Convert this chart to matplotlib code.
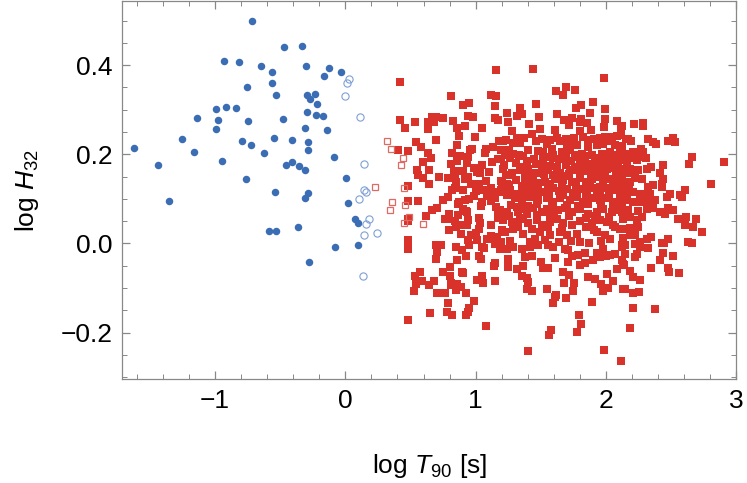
import numpy as np
import matplotlib
matplotlib.use("Agg")
import matplotlib.pyplot as plt
from matplotlib.ticker import MultipleLocator, FuncFormatter

plt.rcParams['font.family'] = ['Liberation Sans', 'DejaVu Sans']
plt.rcParams['mathtext.fontset'] = 'custom'
plt.rcParams['mathtext.rm'] = 'Liberation Sans'
plt.rcParams['mathtext.it'] = 'Liberation Sans:italic'

# short bursts, filled (log T90, log H32)
blue_fill = [
    (-0.716, 0.499), (-0.468, 0.440), (-0.332, 0.443), (-0.933, 0.410), (-0.815, 0.407),
    (-0.646, 0.399), (-0.299, 0.398), (-0.562, 0.384), (-0.125, 0.393), (-0.033, 0.384),
    (-0.161, 0.376), (-0.560, 0.359), (-0.751, 0.351), (-0.531, 0.333), (-0.291, 0.332),
    (-0.235, 0.336), (-0.268, 0.323), (-0.219, 0.312), (-0.994, 0.301), (-0.917, 0.306),
    (-0.838, 0.303), (-0.291, 0.295), (-0.225, 0.288), (-0.171, 0.286), (-1.140, 0.282),
    (-0.979, 0.277), (-0.744, 0.275), (-0.478, 0.280), (-0.994, 0.256), (-0.307, 0.259),
    (-0.138, 0.255), (-1.618, 0.214), (-1.250, 0.234), (-0.792, 0.231), (-0.544, 0.236),
    (-0.411, 0.233), (-1.163, 0.205), (-0.723, 0.220), (-0.623, 0.202), (-0.288, 0.227),
    (-0.288, 0.209), (-0.089, 0.195), (-1.439, 0.175), (-0.948, 0.184), (-0.452, 0.175),
    (-0.411, 0.182), (-0.357, 0.173), (-0.311, 0.164), (-0.761, 0.144), (0.005, 0.146),
    (-1.352, 0.096), (-0.539, 0.115), (-0.288, 0.113), (-0.307, 0.102), (0.023, 0.091),
    (0.077, 0.054), (0.095, 0.045), (-0.587, 0.029), (-0.531, 0.027), (-0.363, 0.038),
    (-0.079, -0.009), (0.097, -0.004), (-0.278, -0.042),
]

# short bursts, open
blue_open = [
    (0.031, 0.368), (0.011, 0.360), (-0.002, 0.330), (0.115, 0.283), (0.146, 0.179),
    (0.146, 0.119), (0.161, 0.115), (0.107, 0.099), (0.184, 0.055), (0.161, 0.044),
    (0.241, 0.023), (0.146, 0.019), (0.138, -0.073),
]

# long bursts, open
red_open = [
    (0.225, 0.126), (0.320, 0.231), (0.348, 0.212), (0.440, 0.192), (0.427, 0.176),
    (0.452, 0.124), (0.358, 0.092), (0.458, 0.087), (0.340, 0.075), (0.491, 0.060),
    (0.452, 0.045), (0.594, 0.043),
]

# long bursts, filled
red_fill_a = [
    (1.156, 0.390), (0.417, 0.363), (0.808, 0.331), (1.115, 0.333), (1.159, 0.331),
    (0.900, 0.311), (0.951, 0.315), (1.148, 0.309), (0.417, 0.278), (0.532, 0.273),
    (0.668, 0.284), (0.693, 0.284), (0.634, 0.273), (0.678, 0.273), (0.752, 0.281),
    (0.823, 0.275), (0.939, 0.286), (0.982, 0.283), (1.148, 0.281), (1.169, 0.276),
    (0.460, 0.260), (0.634, 0.257), (0.859, 0.259), (0.918, 0.264), (1.049, 0.259),
    (0.693, 0.233), (0.872, 0.240), (0.992, 0.239), (0.854, 0.222), (0.540, 0.227),
    (0.402, 0.210), (0.481, 0.207), (0.583, 0.216), (0.634, 0.203), (0.657, 0.192),
    (0.816, 0.203), (0.956, 0.210), (0.972, 0.213), (0.880, 0.196), (0.944, 0.195),
    (1.079, 0.213), (1.072, 0.203), (1.136, 0.216), (1.176, 0.229), (1.194, 0.210),
    (1.169, 0.190), (1.194, 0.190), (0.596, 0.182), (0.854, 0.185), (0.811, 0.178),
    (0.547, 0.164), (0.642, 0.165), (0.560, 0.154), (0.596, 0.147), (0.716, 0.149),
    (0.785, 0.147), (0.834, 0.160), (0.870, 0.162), (0.844, 0.147), (0.849, 0.138),
    (0.905, 0.163), (0.944, 0.150), (0.936, 0.144), (0.962, 0.134), (0.916, 0.144),
    (0.990, 0.169), (1.008, 0.160), (1.033, 0.158), (1.102, 0.161), (1.079, 0.140),
    (0.642, 0.133), (0.481, 0.129), (0.844, 0.125), (0.816, 0.119), (1.025, 0.133),
    (1.051, 0.121), (1.079, 0.121), (1.148, 0.116), (1.194, 0.121), (1.194, 0.140),
    (1.207, 0.115), (0.788, 0.104), (0.747, 0.098), (0.990, 0.107), (0.951, 0.100),
    (0.918, 0.098), (0.870, 0.093), (0.862, 0.089), (0.900, 0.077), (0.926, 0.072),
    (0.936, 0.070), (1.051, 0.093), (1.043, 0.085), (1.084, 0.107), (1.118, 0.095),
    (1.151, 0.102), (1.143, 0.116), (1.153, 0.082), (1.169, 0.073), (1.202, 0.062),
    (1.169, 0.058), (0.481, 0.095), (0.555, 0.095), (0.701, 0.080), (0.662, 0.075),
    (0.481, 0.056), (0.481, 0.050), (0.621, 0.061), (0.795, 0.067), (0.785, 0.054),
    (0.762, 0.054), (0.862, 0.063), (0.839, 0.050), (0.870, 0.042), (0.847, 0.036),
    (0.890, 0.042), (0.931, 0.041), (0.939, 0.052), (0.793, 0.030), (1.023, 0.057),
    (1.033, 0.045), (1.023, 0.033), (1.118, 0.042), (0.964, 0.018), (0.939, 0.007),
    (0.946, -0.004), (1.010, 0.007), (1.089, 0.009), (1.166, 0.015), (1.202, 0.030),
    (1.192, 0.003), (0.481, 0.007), (0.481, 0.001), (0.481, -0.012), (0.693, -0.003),
    (0.737, -0.004), (0.852, -0.007), (0.895, -0.014), (1.051, -0.009), (1.067, -0.010),
    (1.151, -0.002), (1.194, -0.012), (0.701, -0.019), (0.696, -0.034), (0.859, -0.036),
    (0.923, -0.027), (1.026, -0.029), (1.038, -0.034), (1.148, -0.043), (1.141, -0.051),
    (0.803, -0.052), (0.747, -0.063), (0.895, -0.063), (0.900, -0.067), (0.570, -0.063),
    (0.535, -0.072), (0.588, -0.084), (0.542, -0.090), (0.683, -0.085), (0.642, -0.094),
    (0.803, -0.074), (0.811, -0.089), (0.813, -0.094), (0.859, -0.092), (0.890, -0.098),
    (0.849, -0.105), (0.923, -0.111), (1.010, -0.081), (1.046, -0.073), (1.059, -0.089),
    (1.148, -0.084), (0.524, -0.107), (0.701, -0.111), (0.762, -0.111), (0.790, -0.133),
    (0.987, -0.130), (0.951, -0.145), (0.939, -0.154), (0.783, -0.154), (0.816, -0.161),
    (0.926, -0.160), (0.647, -0.155), (0.481, -0.172), (1.079, -0.184),
    (0.903, 0.121), (1.004, 0.118), (1.118, 0.124), (0.934, 0.181), (1.052, 0.176),
    (1.128, 0.183), (0.884, 0.021), (1.003, 0.024), (1.121, 0.017),
]

red_fill_b = [
    (1.442, 0.391), (1.981, 0.371), (1.616, 0.342), (1.695, 0.352), (1.667, 0.334),
    (1.764, 0.345), (1.902, 0.317), (1.460, 0.312), (1.342, 0.305), (1.355, 0.291),
    (1.314, 0.287), (1.242, 0.293), (1.247, 0.272), (1.485, 0.284), (1.621, 0.290),
    (1.767, 0.303), (1.807, 0.311), (1.877, 0.293), (1.810, 0.280), (1.800, 0.272),
    (1.680, 0.278), (1.736, 0.281), (1.715, 0.265), (1.856, 0.270), (1.989, 0.301),
    (1.994, 0.280), (1.981, 0.261), (2.086, 0.275), (2.112, 0.262), (1.411, 0.269),
    (1.278, 0.253), (1.490, 0.257), (1.611, 0.255), (1.432, 0.246), (1.212, 0.229),
    (1.283, 0.225), (1.319, 0.237), (1.373, 0.237), (1.511, 0.234), (1.570, 0.232),
    (1.646, 0.229), (1.692, 0.235), (1.751, 0.237), (1.800, 0.252), (1.825, 0.239),
    (1.882, 0.254), (1.910, 0.235), (1.953, 0.237), (1.992, 0.239), (2.043, 0.239),
    (2.086, 0.242), (1.199, 0.209), (1.252, 0.209), (1.288, 0.201), (1.332, 0.198),
    (1.224, 0.198), (1.403, 0.210), (1.478, 0.208), (1.518, 0.205), (1.588, 0.213),
    (1.593, 0.199), (1.664, 0.205), (1.697, 0.220), (1.726, 0.210), (1.774, 0.220),
    (1.859, 0.216), (1.928, 0.220), (1.979, 0.224), (2.068, 0.220), (2.107, 0.216),
    (2.030, 0.205), (1.966, 0.201), (1.889, 0.198), (1.813, 0.201), (1.761, 0.198),
    (1.690, 0.192), (1.306, 0.180), (1.391, 0.186), (1.444, 0.189), (1.513, 0.189),
    (1.595, 0.192), (1.506, 0.175), (1.621, 0.171), (1.728, 0.186), (1.800, 0.184),
    (1.851, 0.179), (1.915, 0.184), (1.979, 0.186), (2.043, 0.183), (2.094, 0.183),
    (1.206, 0.168), (1.232, 0.153), (1.276, 0.159), (1.339, 0.164), (1.403, 0.168),
    (1.442, 0.159), (1.442, 0.145), (1.493, 0.157), (1.557, 0.164), (1.595, 0.153),
    (1.646, 0.159), (1.685, 0.151), (1.723, 0.164), (1.774, 0.164), (1.820, 0.168),
    (1.864, 0.162), (1.907, 0.164), (1.953, 0.168), (2.004, 0.166), (2.056, 0.169),
    (2.112, 0.168), (1.199, 0.138), (1.237, 0.134), (1.306, 0.142), (1.378, 0.139),
    (1.416, 0.138), (1.480, 0.136), (1.531, 0.139), (1.570, 0.134), (1.621, 0.144),
    (1.672, 0.142), (1.736, 0.139), (1.800, 0.147), (1.846, 0.138), (1.889, 0.144),
    (1.941, 0.149), (1.979, 0.139), (2.030, 0.145), (2.081, 0.142), (2.120, 0.149),
    (1.212, 0.123), (1.263, 0.119), (1.327, 0.112), (1.391, 0.123), (1.429, 0.115),
    (1.480, 0.119), (1.518, 0.115), (1.595, 0.124), (1.641, 0.117), (1.697, 0.123),
    (1.744, 0.114), (1.795, 0.123), (1.856, 0.119), (1.907, 0.124), (1.953, 0.115),
    (2.004, 0.124), (2.056, 0.119), (2.107, 0.127), (1.301, 0.101), (1.352, 0.093),
    (1.416, 0.104), (1.480, 0.097), (1.544, 0.102), (1.595, 0.093), (1.646, 0.101),
    (1.723, 0.097), (1.774, 0.104), (1.825, 0.093), (1.889, 0.101), (1.953, 0.097),
    (2.017, 0.102), (2.068, 0.093), (2.120, 0.101), (1.186, 0.074), (1.237, 0.071),
    (1.314, 0.082), (1.327, 0.071), (1.365, 0.077), (1.391, 0.067), (1.442, 0.080),
    (1.506, 0.071), (1.544, 0.078), (1.570, 0.067), (1.634, 0.074), (1.685, 0.080),
    (1.736, 0.071), (1.800, 0.077), (1.864, 0.067), (1.928, 0.071), (1.979, 0.078),
    (2.043, 0.071), (2.107, 0.074), (1.212, 0.052), (1.276, 0.048), (1.339, 0.056),
    (1.403, 0.045), (1.467, 0.052), (1.506, 0.041), (1.570, 0.048), (1.621, 0.054),
    (1.672, 0.045), (1.736, 0.041), (1.800, 0.050), (1.889, 0.045), (1.953, 0.052),
    (2.004, 0.048), (2.056, 0.041), (2.107, 0.033), (1.224, 0.026), (1.288, 0.033),
    (1.365, 0.022), (1.455, 0.011), (1.493, 0.026), (1.570, 0.018), (1.646, 0.026),
    (1.697, 0.018), (1.774, 0.022), (1.800, 0.003), (1.928, 0.026), (1.992, 0.018),
    (2.030, 0.011), (1.186, -0.012), (1.237, -0.012), (1.288, -0.008), (1.352, -0.012),
    (1.416, -0.008), (1.480, -0.004), (1.557, -0.004), (1.595, -0.008), (1.685, -0.012),
    (1.710, -0.015), (1.787, -0.025), (1.838, -0.021), (1.928, -0.021), (1.979, -0.012),
    (2.030, -0.025), (2.120, -0.003), (1.250, -0.034), (1.378, -0.030), (1.429, -0.027),
    (1.608, -0.033), (1.736, -0.027), (1.710, -0.042), (1.800, -0.048), (1.838, -0.044),
    (1.897, -0.036), (1.953, -0.030), (1.999, -0.027), (2.068, -0.023), (1.250, -0.053),
    (1.314, -0.058), (1.360, -0.051), (1.498, -0.042), (1.518, -0.055), (1.557, -0.055),
    (1.672, -0.063), (1.718, -0.070), (1.864, -0.075), (1.915, -0.079), (2.004, -0.068),
    (2.081, -0.057), (2.127, -0.045), (1.352, -0.073), (1.391, -0.077), (1.403, -0.086),
    (1.429, -0.107), (1.396, -0.101), (1.677, -0.089), (1.754, -0.089), (1.744, -0.106),
    (1.961, -0.090), (2.017, -0.100), (2.050, -0.085), (1.979, -0.107), (2.132, -0.101),
    (1.544, -0.103), (1.616, -0.115), (1.608, -0.120), (1.692, -0.122), (1.590, -0.134),
    (1.889, -0.131), (1.790, -0.161), (1.805, -0.181), (1.779, -0.199), (1.577, -0.194),
    (1.564, -0.205), (1.401, -0.242), (1.981, -0.238), (2.114, -0.264),
]

# denser core of the long-burst cloud
red_fill_core = [
    (1.232, 0.233), (1.343, 0.226), (1.461, 0.231), (1.548, 0.224), (1.624, 0.236),
    (1.722, 0.228), (1.862, 0.232), (1.941, 0.226), (2.022, 0.230), (2.151, 0.234),
    (1.262, 0.191), (1.364, 0.197), (1.552, 0.194), (1.641, 0.189), (1.783, 0.193),
    (1.842, 0.196), (1.934, 0.192), (2.012, 0.194), (2.071, 0.199), (2.203, 0.192),
    (1.221, 0.176), (1.352, 0.172), (1.463, 0.178), (1.572, 0.174), (1.693, 0.177),
    (1.762, 0.172), (1.892, 0.176), (1.963, 0.173), (2.031, 0.178), (2.162, 0.174),
    (1.271, 0.154), (1.382, 0.151), (1.523, 0.156), (1.612, 0.152), (1.714, 0.155),
    (1.803, 0.158), (1.884, 0.152), (1.992, 0.155), (2.073, 0.152), (2.182, 0.157),
    (1.253, 0.131), (1.352, 0.128), (1.451, 0.133), (1.553, 0.126), (1.662, 0.131),
    (1.771, 0.128), (1.873, 0.132), (1.952, 0.127), (2.051, 0.133), (2.173, 0.129),
    (1.242, 0.108), (1.373, 0.111), (1.462, 0.106), (1.564, 0.112), (1.672, 0.108),
    (1.763, 0.111), (1.843, 0.106), (1.934, 0.109), (2.023, 0.112), (2.142, 0.106),
    (1.272, 0.086), (1.403, 0.083), (1.472, 0.088), (1.583, 0.084), (1.702, 0.087),
    (1.782, 0.083), (1.861, 0.088), (1.963, 0.085), (2.054, 0.086),
    (1.253, 0.061), (1.362, 0.058), (1.474, 0.063), (1.603, 0.059), (1.712, 0.062),
    (1.843, 0.058), (1.912, 0.061), (2.024, 0.059),
    (1.323, 0.036), (1.432, 0.033), (1.553, 0.037), (1.662, 0.034), (1.843, 0.036),
    (1.904, 0.031), (2.072, 0.037),
    (1.262, 0.006), (1.413, 0.003), (1.532, 0.007), (1.641, 0.004), (1.733, 0.006),
    (1.872, 0.002), (1.962, 0.005),
]

red_fill_c = [
    (2.214, 0.268), (2.283, 0.271), (2.283, 0.264), (2.120, 0.263), (2.171, 0.235),
    (2.191, 0.230), (2.120, 0.219), (2.112, 0.243), (2.324, 0.234), (2.363, 0.228),
    (2.381, 0.224), (2.478, 0.229), (2.516, 0.237), (2.529, 0.228), (2.266, 0.213),
    (2.286, 0.206), (2.209, 0.206), (2.171, 0.200), (2.127, 0.198), (2.145, 0.187),
    (2.657, 0.194), (2.636, 0.179), (2.908, 0.183), (2.266, 0.194), (2.304, 0.191),
    (2.235, 0.187), (2.347, 0.172), (2.312, 0.168), (2.248, 0.164), (2.184, 0.168),
    (2.133, 0.164), (2.437, 0.177), (2.414, 0.159), (2.439, 0.144), (2.427, 0.127),
    (2.427, 0.134), (2.803, 0.133), (2.363, 0.132), (2.324, 0.127), (2.273, 0.144),
    (2.222, 0.146), (2.184, 0.138), (2.133, 0.137), (2.120, 0.127), (2.606, 0.121),
    (2.491, 0.112), (2.465, 0.105), (2.567, 0.108), (2.585, 0.105), (2.337, 0.112),
    (2.299, 0.108), (2.260, 0.112), (2.209, 0.116), (2.145, 0.116), (2.107, 0.108),
    (2.376, 0.097), (2.324, 0.093), (2.260, 0.093), (2.209, 0.093), (2.158, 0.097),
    (2.120, 0.093), (2.478, 0.080), (2.516, 0.075), (2.414, 0.071), (2.452, 0.067),
    (2.363, 0.080), (2.312, 0.077), (2.248, 0.072), (2.171, 0.075), (2.120, 0.071),
    (2.549, 0.056), (2.611, 0.060), (2.688, 0.054), (2.273, 0.060), (2.235, 0.052),
    (2.184, 0.060), (2.133, 0.056), (2.606, 0.041), (2.665, 0.036), (2.739, 0.026),
    (2.248, 0.037), (2.184, 0.035), (2.120, 0.033), (2.222, 0.018), (2.184, 0.018),
    (2.133, 0.012), (2.342, 0.015), (2.317, 0.010), (2.473, 0.010), (2.427, 0.002),
    (2.447, 0.001), (2.631, 0.004), (2.662, 0.002), (2.260, 0.004), (2.222, -0.002),
    (2.260, -0.008), (2.324, -0.011), (2.145, -0.004), (2.120, -0.008), (2.439, -0.021),
    (2.414, -0.037), (2.516, -0.029), (2.235, -0.023), (2.222, -0.030), (2.145, -0.023),
    (2.120, -0.037), (2.138, -0.049), (2.345, -0.056), (2.478, -0.055), (2.483, -0.065),
    (2.560, -0.067), (2.184, -0.062), (2.209, -0.075), (2.260, -0.081), (2.145, -0.101),
    (2.209, -0.112), (2.255, -0.109), (2.204, -0.145), (2.376, -0.146), (2.184, -0.189),
]

blue = '#3b6db5'
red = '#d8322a'

fig = plt.figure(figsize=(7.47, 4.83), dpi=100)
ax = fig.add_axes([0.1637, 0.2153, 0.8222, 0.7827])

bf = np.array(blue_fill)
bo = np.array(blue_open)
ro = np.array(red_open)
rf = np.array(red_fill_a + red_fill_b + red_fill_core + red_fill_c)

ax.plot(bf[:, 0], bf[:, 1], 'o', color=blue, ms=5.4, mew=0)
ax.plot(bo[:, 0], bo[:, 1], 'o', mfc='none', mec='#7f9fd4', ms=5.2, mew=0.8)
ax.plot(rf[:, 0], rf[:, 1], 's', color=red, ms=5.6, mew=0)
ax.plot(ro[:, 0], ro[:, 1], 's', mfc='none', mec='#e06a62', ms=5.0, mew=0.9)

ax.set_xlim(-1.71, 3.0)
ax.set_ylim(-0.304, 0.544)
ax.xaxis.set_major_locator(MultipleLocator(1))
ax.xaxis.set_minor_locator(MultipleLocator(0.2))
ax.yaxis.set_major_locator(MultipleLocator(0.2))
ax.yaxis.set_minor_locator(MultipleLocator(0.05))
ax.xaxis.set_major_formatter(FuncFormatter(lambda v, p: '{:.0f}'.format(v).replace('-', '\u2212')))
ax.yaxis.set_major_formatter(FuncFormatter(lambda v, p: '{:.1f}'.format(v + 0.0).replace('-', '\u2212')))
ax.tick_params(which='both', direction='in', top=True, right=True, color='#888888',
               labelsize=19, labelcolor='black', pad=7)
ax.tick_params(which='major', length=6, width=0.9)
ax.tick_params(which='minor', length=3.5, width=0.7)
for s in ax.spines.values():
    s.set_color('#888888')
    s.set_linewidth(0.9)

ax.set_xlabel(r'log $\mathit{T}_{90}$ [s]', fontsize=19, labelpad=28)
ax.set_ylabel(r'log $\mathit{H}_{32}$', fontsize=19, labelpad=14)

fig.savefig('out.png', dpi=100)
